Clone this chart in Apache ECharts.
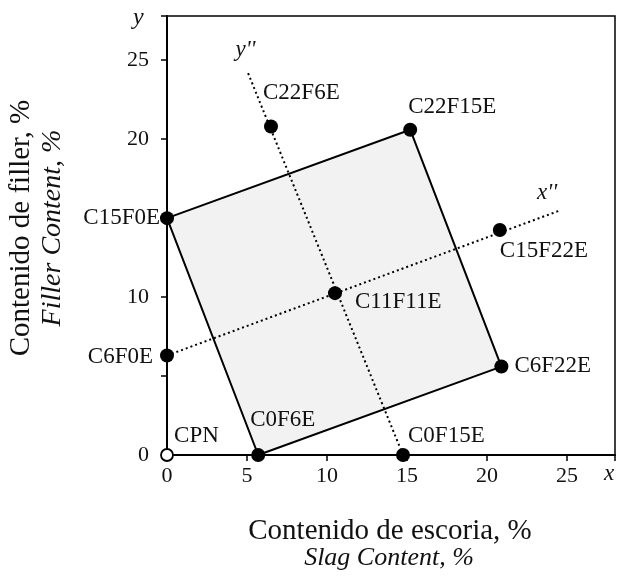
<!DOCTYPE html>
<html>
<head>
<meta charset="utf-8">
<script src="https://cdn.jsdelivr.net/npm/echarts@6/dist/echarts.min.js"></script>
<style>html,body{margin:0;padding:0;background:#fff}#c{width:618px;height:576px}</style>
</head>
<body>
<div id="c"></div>
<script>
// ---- data ----
const pointNames = ['CPN','C0F6E','C0F15E','C6F0E','C6F22E','C11F11E','C15F0E','C15F22E','C22F6E','C22F15E'];
const slagContent = [0, 5.7, 14.75, 0, 20.9, 10.5, 0, 20.8, 6.5, 15.2];
const fillerContent = [0, 0, 0, 6.3, 5.6, 10.25, 15.0, 14.25, 20.8, 20.6];
const squareOrder = ['C15F0E','C22F15E','C6F22E','C0F6E','C15F0E'];
const xAxisLineStart = 'C6F0E';
const xAxisLineEnd = [24.6, 15.5];
const yAxisLineStart = 'C0F15E';
const yAxisLineEnd = [5.06, 24.2];
const xTickLabels = [0, 5, 10, 15, 20, 25];
const yTickLabels = [0, 10, 20, 25];

// ---- styling ----
const FONT = 'Liberation Serif';
const INK = '#111';
const R = 7;
const labelPlace = {
  'CPN':     {dx: 8,   dy: -18, align: 'left'},
  'C0F6E':   {dx: -8,  dy: -35, align: 'left'},
  'C0F15E':  {dx: 5,   dy: -19, align: 'left'},
  'C6F0E':   {dx: -14, dy: 1,   align: 'right'},
  'C6F22E':  {dx: 13,  dy: -1,  align: 'left'},
  'C11F11E': {dx: 20,  dy: 9,   align: 'left'},
  'C15F0E':  {dx: -7,  dy: 0,   align: 'right'},
  'C15F22E': {dx: 0,   dy: 21,  align: 'left'},
  'C22F6E':  {dx: -8,  dy: -34, align: 'left'},
  'C22F15E': {dx: -2,  dy: -23, align: 'left'}
};
const pt = n => { const i = pointNames.indexOf(n); return [slagContent[i], fillerContent[i]]; };

function labelFor(name, r) {
  const p = labelPlace[name];
  return {
    show: true, formatter: name, position: [p.dx + r, p.dy + r],
    align: p.align, verticalAlign: 'middle',
    fontFamily: FONT, fontSize: 23, color: INK
  };
}

const blackPts = pointNames.filter(n => n !== 'CPN').map(n => ({
  name: n, value: pt(n), label: labelFor(n, R)
}));

const chart = echarts.init(document.getElementById('c'), null, {renderer: 'canvas'});
const option = {
  backgroundColor: '#fff',
  animation: false,
  grid: {left: 167, right: 3, top: 16, bottom: 121, show: true, borderColor: '#000', borderWidth: 1.5},
  xAxis: {
    type: 'value', min: 0, max: 28, interval: 5,
    axisLine: {lineStyle: {color: '#000', width: 2}},
    axisTick: {show: true, length: 6, lineStyle: {color: '#000', width: 1.5}},
    splitLine: {show: false},
    axisLabel: {fontFamily: FONT, fontSize: 22, color: INK, margin: 10,
      formatter: v => xTickLabels.includes(v) ? String(v) : ''}
  },
  yAxis: {
    type: 'value', min: 0, max: 27.8, interval: 5,
    axisLine: {lineStyle: {color: '#000', width: 2}},
    axisTick: {show: true, length: 6, lineStyle: {color: '#000', width: 1.5}},
    splitLine: {show: false},
    axisLabel: {fontFamily: FONT, fontSize: 22, color: INK, margin: 18,
      formatter: v => yTickLabels.includes(v) ? String(v) : ''}
  },
  series: [
    {
      type: 'custom', silent: true, z: 1,
      data: [[0, 0]],
      renderItem: (params, api) => ({
        type: 'polygon',
        shape: {points: squareOrder.map(n => api.coord(pt(n)))},
        style: {fill: 'rgba(0,0,0,0.05)'}
      })
    },
    {
      type: 'line', z: 2, symbol: 'none', silent: true,
      data: squareOrder.map(pt),
      lineStyle: {color: '#000', width: 2}
    },
    {
      type: 'line', z: 2, symbol: 'none', silent: true,
      data: [pt(xAxisLineStart), xAxisLineEnd],
      lineStyle: {color: '#000', width: 2, type: [2, 3]}
    },
    {
      type: 'line', z: 2, symbol: 'none', silent: true,
      data: [pt(yAxisLineStart), yAxisLineEnd],
      lineStyle: {color: '#000', width: 2, type: [2, 3]}
    },
    {
      type: 'scatter', z: 5, symbolSize: 2 * R,
      itemStyle: {color: '#000', opacity: 1},
      data: blackPts
    },
    {
      type: 'scatter', z: 6, symbolSize: 12,
      itemStyle: {color: '#fff', borderColor: '#000', borderWidth: 1.8, opacity: 1},
      data: [{name: 'CPN', value: pt('CPN'), label: labelFor('CPN', 6)}]
    },
    {
      type: 'scatter', z: 6, symbolSize: 1, itemStyle: {color: 'rgba(0,0,0,0)', opacity: 1},
      data: [
        {value: xAxisLineEnd, label: {show: true, formatter: "x''", position: [-13, -17], align: 'center', verticalAlign: 'middle', fontFamily: FONT, fontStyle: 'italic', fontSize: 23, color: INK}},
        {value: yAxisLineEnd, label: {show: true, formatter: "y''", position: [-2, -22], align: 'center', verticalAlign: 'middle', fontFamily: FONT, fontStyle: 'italic', fontSize: 23, color: INK}}
      ]
    }
  ],
  graphic: [
    {type: 'text', left: 604, top: 462, style: {text: 'x', font: 'italic 23px "Liberation Serif"', fill: INK}},
    {type: 'text', left: 133, top: 6, style: {text: 'y', font: 'italic 24px "Liberation Serif"', fill: INK}},
    {type: 'text', x: 390, y: 531, style: {text: 'Contenido de escoria, %', font: '29px "Liberation Serif"', fill: INK, align: 'center', verticalAlign: 'middle'}},
    {type: 'text', x: 389, y: 558, style: {text: 'Slag Content, %', font: 'italic 26px "Liberation Serif"', fill: INK, align: 'center', verticalAlign: 'middle'}},
    {type: 'text', x: 21, y: 228, rotation: Math.PI / 2, style: {text: 'Contenido de filler, %', font: '29px "Liberation Serif"', fill: INK, align: 'center', verticalAlign: 'middle'}},
    {type: 'text', x: 53, y: 228, rotation: Math.PI / 2, style: {text: 'Filler Content, %', font: 'italic 28px "Liberation Serif"', fill: INK, align: 'center', verticalAlign: 'middle'}}
  ]
};
chart.setOption(option);
</script>
</body>
</html>
